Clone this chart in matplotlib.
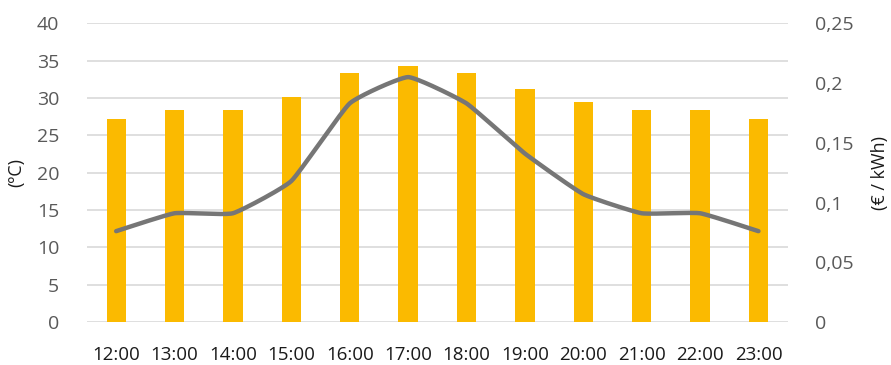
import numpy as np
import matplotlib
matplotlib.use("Agg")
import matplotlib.pyplot as plt

hours = ["12:00", "13:00", "14:00", "15:00", "16:00", "17:00",
         "18:00", "19:00", "20:00", "21:00", "22:00", "23:00"]
temperature = [27.2, 28.4, 28.4, 30.2, 33.4, 34.3, 33.4, 31.2, 29.4, 28.4, 28.4, 27.2]
price = [0.076, 0.091, 0.091, 0.118, 0.183, 0.205, 0.183, 0.141, 0.107, 0.091, 0.091, 0.076]
left_ticks = [0, 5, 10, 15, 20, 25, 30, 35, 40]
right_ticks = [0, 0.05, 0.1, 0.15, 0.2, 0.25]
right_labels = ["0", "0,05", "0,1", "0,15", "0,2", "0,25"]

plt.rcParams['font.family'] = ['Open Sans', 'DejaVu Sans']

def smooth(x, y, c=0.2, n=30):
    x = np.asarray(x, float); y = np.asarray(y, float)
    N = len(x)
    mx = np.zeros(N); my = np.zeros(N)
    for i in range(N):
        a = max(i-1, 0); b = min(i+1, N-1)
        mx[i] = c*(x[b]-x[a]); my[i] = c*(y[b]-y[a])
    xs, ys = [], []
    t = np.linspace(0, 1, n, endpoint=False)
    h00 = 2*t**3-3*t**2+1; h10 = t**3-2*t**2+t; h01 = -2*t**3+3*t**2; h11 = t**3-t**2
    for i in range(N-1):
        xs.extend(h00*x[i]+h10*mx[i]+h01*x[i+1]+h11*mx[i+1])
        ys.extend(h00*y[i]+h10*my[i]+h01*y[i+1]+h11*my[i+1])
    xs.append(x[-1]); ys.append(y[-1])
    return np.array(xs), np.array(ys)

fig = plt.figure(figsize=(8.91, 3.65), dpi=100)
ax = fig.add_axes([0.0976, 0.118, 0.7864, 0.818])
xpos = np.arange(len(hours))
ax.bar(xpos, temperature, width=0.33, color="#FBBA00", zorder=2)
ax.set_xlim(-0.5, len(hours)-0.5)
ax.set_ylim(0, 40)
ax.set_yticks(left_ticks)
ax.set_yticklabels([str(t) for t in left_ticks])
ax.grid(axis='y', color="#d9d9d9", linewidth=1.2, zorder=0)
ax.set_axisbelow(True)
for s in ax.spines.values():
    s.set_visible(False)
ax.tick_params(axis='y', length=0, pad=20, labelsize=14, labelcolor="#595959")
ax.tick_params(axis='x', length=0, pad=17, labelsize=13.5, labelcolor="#1a1a1a")
ax.set_xticks(xpos)
ax.set_xticklabels(hours)
ax.set_ylabel("(ºC)", fontsize=13, color="#1a1a1a", labelpad=8)

ax2 = ax.twinx()
ax2.set_ylim(0, 0.25)
ax2.set_yticks(right_ticks)
ax2.set_yticklabels(right_labels)
for s in ax2.spines.values():
    s.set_visible(False)
ax2.tick_params(axis='y', length=0, pad=20, labelsize=14, labelcolor="#595959")
sx, sy = smooth(xpos, price)
ax2.plot(sx, sy, color="#767676", linewidth=3.2, solid_capstyle='round', zorder=3)
ax2.set_ylabel("(€ / kWh)", fontsize=13, color="#1a1a1a", labelpad=12)

fig.savefig("out.png", dpi=100)
